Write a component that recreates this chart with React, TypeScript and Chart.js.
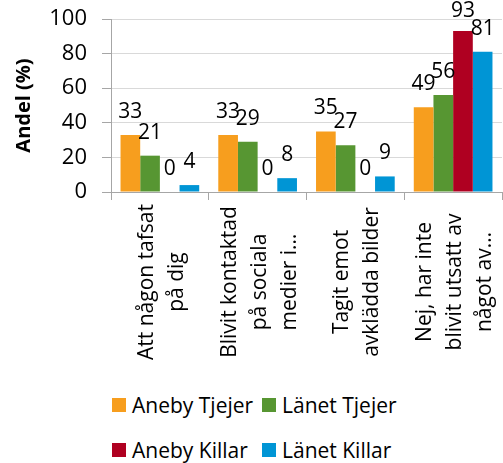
import React, { useEffect, useRef } from "react";
import { Chart, registerables } from "chart.js";

Chart.register(...registerables);

const categories: string[][] = [
  ["Att någon tafsat", "på dig"],
  ["Blivit kontaktad", "på sociala", "medier i…"],
  ["Tagit emot", "avklädda bilder"],
  ["Nej, har inte", "blivit utsatt av", "något av…"],
];

const seriesNames = ["Aneby Tjejer", "Länet Tjejer", "Aneby Killar", "Länet Killar"];
const anebyTjejer = [33, 33, 35, 49];
const lanetTjejer = [21, 29, 27, 56];
const anebyKillar = [0, 0, 0, 93];
const lanetKillar = [4, 8, 9, 81];
const seriesColors = ["#F79E1E", "#579632", "#AF0021", "#0095D5"];

const yTicks = [0, 20, 40, 60, 80, 100];

const FONT = "'Open Sans', Lato, sans-serif";

const xLabelPlugin = {
  id: "xLabelsCentered",
  afterDraw(chart: any) {
    const { ctx, chartArea, scales } = chart;
    const x = scales.x;
    ctx.save();
    ctx.font = `21px ${FONT}`;
    ctx.fillStyle = "#000";
    ctx.textAlign = "center";
    ctx.textBaseline = "middle";
    categories.forEach((lines, i) => {
      const cx = x.getPixelForValue(i) + 2;
      const cy = chartArea.bottom + 90;
      const n = lines.length;
      lines.forEach((line, j) => {
        ctx.save();
        ctx.translate(cx + (j - (n - 1) / 2) * 30, cy);
        ctx.rotate(-Math.PI / 2);
        ctx.fillText(line, 0, 0);
        ctx.restore();
      });
    });
    ctx.restore();
  },
};

const dataLabelPlugin = {
  id: "barValueLabels",
  afterDatasetsDraw(chart: any) {
    const { ctx } = chart;
    ctx.save();
    ctx.font = `21px ${FONT}`;
    ctx.fillStyle = "#000";
    ctx.textAlign = "center";
    ctx.textBaseline = "alphabetic";
    chart.data.datasets.forEach((ds: any, di: number) => {
      const meta = chart.getDatasetMeta(di);
      meta.data.forEach((bar: any, i: number) => {
        const y = Math.max(bar.y - 17, 17);
        ctx.fillText(String(ds.data[i]), bar.x, y);
      });
    });
    ctx.restore();
  },
};

export default function App() {
  const canvasRef = useRef<HTMLCanvasElement>(null);

  useEffect(() => {
    if (!canvasRef.current) return;
    const allSeries = [anebyTjejer, lanetTjejer, anebyKillar, lanetKillar];
    const chart = new Chart(canvasRef.current, {
      type: "bar",
      data: {
        labels: categories,
        datasets: allSeries.map((d, i) => ({
          label: seriesNames[i],
          data: d,
          backgroundColor: seriesColors[i],
          borderWidth: 0,
          barPercentage: 1,
          categoryPercentage: 0.805,
        })),
      },
      options: {
        responsive: false,
        animation: false,
        devicePixelRatio: 1,
        layout: { padding: { top: 19, right: 1, left: 0, bottom: 0 } },
        plugins: {
          legend: { display: false },
          tooltip: { enabled: false },
        },
        scales: {
          x: {
            type: "category",
            offset: true,
            grid: {
              display: true,
              drawOnChartArea: false,
              offset: true,
              tickLength: 8,
              tickColor: "#a6a6a6",
              color: "#a6a6a6",
            },
            border: { color: "#a6a6a6", width: 1 },
            ticks: { display: false },
            afterFit(scale: any) {
              scale.height = 188;
            },
          },
          y: {
            min: 0,
            max: 100,
            afterBuildTicks(scale: any) {
              scale.ticks = yTicks.map((v) => ({ value: v }));
            },
            grid: {
              color: "#d9d9d9",
              tickColor: "#a6a6a6",
              tickLength: 9,
            },
            border: { color: "#a6a6a6", width: 1 },
            ticks: {
              font: { family: FONT, size: 22 },
              color: "#000",
              padding: 15,
            },
            title: {
              display: true,
              text: "Andel (%)",
              font: { family: FONT, size: 20, weight: "bold" },
              color: "#000",
              padding: { top: 12, bottom: 0 },
            },
            afterFit(scale: any) {
              scale.width = 111;
              scale.paddingTop = 0;
              scale.paddingBottom = 0;
            },
          },
        },
      },
      plugins: [xLabelPlugin, dataLabelPlugin],
    });
    return () => chart.destroy();
  }, []);

  const legendRows = [
    [0, 1],
    [2, 3],
  ];
  const rowCenters = [405, 450];
  const colLefts = [112, 262];

  return (
    <div style={{ position: "absolute", left: 0, top: 0, width: 503, height: 463, background: "#fff" }}>
      <canvas ref={canvasRef} width={503} height={380} style={{ position: "absolute", left: 0, top: 0 }} />
      {legendRows.map((row, ri) =>
        row.map((si, ci) => (
          <div
            key={`${ri}-${ci}`}
            style={{
              position: "absolute",
              left: colLefts[ci],
              top: rowCenters[ri] - 15,
              height: 30,
              display: "flex",
              alignItems: "center",
              fontFamily: FONT,
              fontSize: 21,
              color: "#000",
              whiteSpace: "nowrap",
            }}
          >
            <span
              style={{
                display: "inline-block",
                width: 14,
                height: 14,
                background: seriesColors[si],
                marginRight: 6,
              }}
            />
            <span>{seriesNames[si]}</span>
          </div>
        ))
      )}
    </div>
  );
}
